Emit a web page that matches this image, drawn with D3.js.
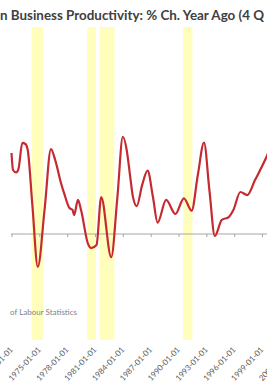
<!DOCTYPE html>
<html><head><meta charset="utf-8">
<script src="https://cdn.jsdelivr.net/npm/d3@7"></script>
<style>html,body{margin:0;padding:0;background:#fff;overflow:hidden}</style>
</head><body>
<script>
const dates = ["1972-01","1972-03","1972-07","1972-10","1973-03","1973-07","1973-10","1974-04","1974-11","1975-08","1976-04","1976-10","1977-05","1977-09","1978-04","1978-08","1978-10","1979-03","1979-07","1980-04","1980-08","1981-03","1981-09","1982-10","1983-06","1984-01","1984-06","1984-10","1985-02","1985-07","1986-02","1986-09","1987-04","1987-10","1988-09","1989-09","1990-08","1991-06","1992-02","1992-10","1993-05","1993-12","1994-09","1995-06","1995-12","1996-09","1997-06","1998-04","1999-05","1999-09"];
const values = [3.68,2.91,2.80,2.95,4.14,4.09,3.82,1.32,-1.49,1.18,3.86,3.30,2.32,1.86,1.18,1.09,0.86,1.55,1.09,-0.45,-0.64,-0.50,1.68,-1.05,1.68,4.42,3.82,2.76,1.70,1.27,2.23,2.88,1.68,0.52,1.55,0.91,1.62,1.06,2.68,4.16,2.00,-0.09,0.64,0.77,1.09,1.91,1.77,2.45,3.36,3.68];
const recessionStart = ["1974-03","1980-03","1981-07","1990-07"];
const recessionEnd   = ["1975-06","1981-02","1983-02","1991-07"];
const tickYears = [1972,1975,1978,1981,1984,1987,1990,1993,1996,1999,2002];
const titleText = "n Business Productivity: % Ch. Year Ago (4 Q";
const sourceText = "of Labour Statistics";

const W = 267, H = 386;
const parse = d3.timeParse("%Y-%m");
const svg = d3.select("body").append("svg").attr("width", W).attr("height", H);

const x = d3.scaleTime().domain([new Date(1972,0,1), new Date(1999,0,1)]).range([11.5, 262]);
const y = d3.scaleLinear().domain([-3, 8]).range([300, 58]);

// recession bands
svg.append("g").selectAll("rect").data(recessionStart).join("rect")
  .attr("x", (d,i) => x(parse(d)))
  .attr("width", (d,i) => x(parse(recessionEnd[i])) - x(parse(d)))
  .attr("y", 27).attr("height", 313)
  .attr("fill", "#FFFEBC");

// zero axis with ticks
const axis = d3.axisBottom(x)
  .tickValues(tickYears.map(t => new Date(t,0,1)))
  .tickSize(3).tickFormat("");
const ag = svg.append("g").attr("transform", `translate(0,${y(0)})`).call(axis);
ag.select(".domain").attr("d", `M11,0H${W}`).attr("stroke", "#a6a6a6");
ag.selectAll(".tick line").attr("stroke", "#a6a6a6");

// line
const pts = dates.map((d,i) => ({d: parse(d), v: values[i]}));
svg.append("path").datum(pts)
  .attr("fill", "none").attr("stroke", "#C42A30").attr("stroke-width", 2.2)
  .attr("stroke-linejoin", "round")
  .attr("d", d3.line().x(p => x(p.d)).y(p => y(p.v)).curve(d3.curveMonotoneX));

// bottom labels
svg.append("g").selectAll("text").data(tickYears).join("text")
  .attr("transform", t => `translate(${x(new Date(t,0,1)) + 2},350) rotate(-47)`)
  .attr("text-anchor", "end")
  .attr("font-family", "Lato, sans-serif").attr("font-size", 8)
  .attr("fill", "#595959")
  .text(t => `${t}-01-01`);

// source
svg.append("text").attr("x", 10).attr("y", 315)
  .attr("font-family", "Lato, sans-serif").attr("font-size", 8)
  .attr("fill", "#7f7f7f").text(sourceText);

// title
svg.append("text").attr("x", 0).attr("y", 20)
  .attr("font-family", "Lato, sans-serif").attr("font-weight", "bold")
  .attr("font-size", 13.4).attr("fill", "#404040").text(titleText);
</script>
</body></html>
